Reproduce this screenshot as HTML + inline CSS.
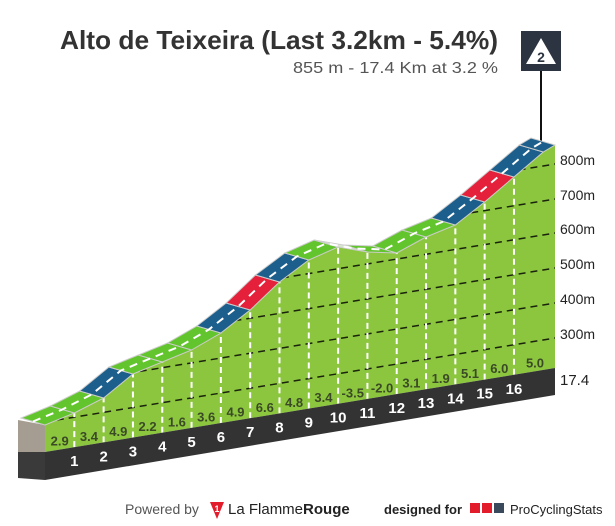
<!DOCTYPE html>
<html><head><meta charset="utf-8"><style>
body{margin:0;background:#fff;width:615px;height:526px;overflow:hidden;font-family:"Liberation Sans",sans-serif}
</style></head><body>
<svg id="s" width="615" height="526" xmlns="http://www.w3.org/2000/svg" style="position:absolute;left:0;top:0">
<text x="498" y="49" text-anchor="end" font-size="26" font-weight="bold" fill="#333" textLength="438" lengthAdjust="spacingAndGlyphs">Alto de Teixeira (Last 3.2km - 5.4%)</text>
<text x="498" y="73" text-anchor="end" font-size="16" fill="#555" textLength="205" lengthAdjust="spacingAndGlyphs">855 m - 17.4 Km at 3.2 %</text>
<rect x="521" y="31" width="40" height="40" fill="#2b3440"/>
<polygon points="541,38 556,64 526,64" fill="#fff"/>
<text x="541" y="62" text-anchor="middle" font-size="14" font-weight="bold" fill="#2b3440">2</text>
<line x1="541" y1="71" x2="541" y2="142" stroke="#111" stroke-width="2"/>
<g id="g"></g>
<text x="125" y="514" font-size="14" fill="#555">Powered by</text>
<polygon points="210,502 224,502 217,519" fill="#e31c2b"/>
<text x="217" y="512" text-anchor="middle" font-size="9" font-weight="bold" fill="#fff">1</text>
<text x="228" y="514" font-size="15" fill="#222">La Flamme<tspan font-weight="bold">Rouge</tspan></text>
<text x="384" y="514" font-size="13" font-weight="bold" fill="#222">designed for</text>
<rect x="470" y="503" width="10" height="10" fill="#e31c2b"/><rect x="482" y="503" width="10" height="10" fill="#e31c2b"/><rect x="494" y="503" width="10" height="10" fill="#3a4a5c"/>
<text x="510" y="514" font-size="13" fill="#222">ProCyclingStats</text>
</svg>
<script>
const g=document.getElementById('g');let h='';
const X=k=>45+k*29.31;
const base=x=>452-0.1647*(x-45);
const prof=[[0,425],[1,413],[2,398],[3,374],[4,362],[5,350],[6,333],[7,310],[8,282],[9,260],[10,247],[11,252],[12,253],[13,237],[14,225],[15,202],[16,177],[17,152],[17.4,145]];
const P=prof.map(p=>[X(p[0]),p[1]]);
const dx=-24,dy=-7;
h+=`<polygon points="${18},${420} 45,425 45,452 18,452" fill="#a59d92"/>`;
h+=`<polygon points="18,452 45,452 45,480 18,478" fill="#3a3a3a"/>`;
let pts=P.map(p=>p.join(',')).join(' ');
h+=`<polygon points="${pts} 555,${base(555)} 45,452" fill="#8cc63f"/>`;
h+=`<clipPath id="c"><polygon points="${pts} 555,${base(555)} 45,452"/></clipPath><g clip-path="url(#c)">`;
[164,199,233,268,303,338].forEach(y=>{h+=`<line x1="45" y1="${y+84}" x2="555" y2="${y}" stroke="#1a230c" stroke-width="1.5" stroke-dasharray="7,5"/>`;});
for(let k=1;k<=16;k++){const x=X(k);h+=`<line x1="${x}" y1="${base(x)}" x2="${x}" y2="${P[k][1]}" stroke="#fff" stroke-width="2" stroke-dasharray="6,4"/>`;}
h+='</g>';
const col=['g','g','b','g','g','g','b','r','b','g','w','g','g','g','b','r','b','b'];
const C={g:'#63c52d',b:'#1d5f8c',r:'#e5203a',w:'#d9e6cf'};
for(let i=0;i<P.length-1;i++){const a=P[i],b=P[i+1];
h+=`<polygon points="${a[0]},${a[1]} ${b[0]},${b[1]} ${b[0]+dx},${b[1]+dy} ${a[0]+dx},${a[1]+dy}" fill="${C[col[i]]}" stroke="#ccc" stroke-width="1"/>`;}
let mid=P.map(p=>(p[0]+dx/2)+','+(p[1]+dy/2)).join(' ');
h+=`<polyline points="${mid}" fill="none" stroke="#fff" stroke-width="2" stroke-dasharray="8,6"/>`;
h+=`<polygon points="45,452 555,${base(555)} 555,${base(555)+27} 45,480" fill="#333"/>`;
const gr=['2.9','3.4','4.9','2.2','1.6','3.6','4.9','6.6','4.8','3.4','-3.5','-2.0','3.1','1.9','5.1','6.0','5.0'];
gr.forEach((t,i)=>{const x=i==16?535:X(i+0.5);h+=`<text x="${x}" y="${base(x)-4}" text-anchor="middle" font-size="13" font-weight="bold" fill="#3b4a26">${t}</text>`;});
for(let k=1;k<=16;k++){const x=X(k);h+=`<text x="${x}" y="${base(x)+19}" text-anchor="middle" font-size="15" font-weight="bold" fill="#fff">${k}</text>`;}
[[800,164],[700,199],[600,233],[500,268],[400,303],[300,338]].forEach(a=>{h+=`<text x="560" y="${a[1]+1}" font-size="14" fill="#222">${a[0]}m</text>`;});
h+=`<text x="560" y="385" font-size="15" fill="#222">17.4</text>`;
g.innerHTML=h;
</script>
</body></html>
